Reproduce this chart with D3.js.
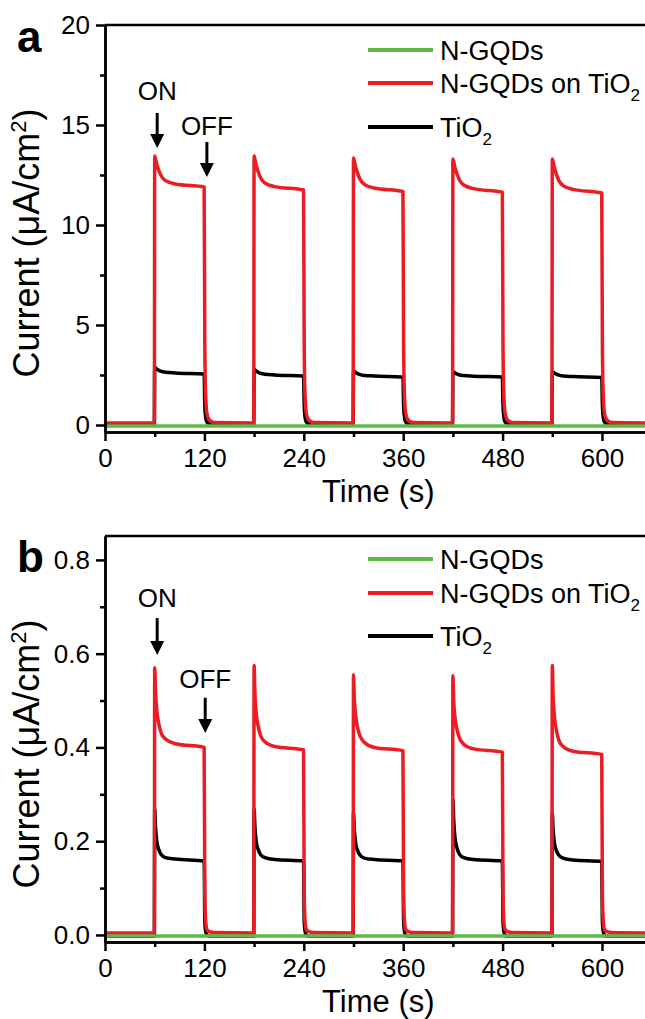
<!doctype html>
<meta charset="utf-8">
<title>Photocurrent response</title>
<script src="https://cdn.jsdelivr.net/npm/d3@7/dist/d3.min.js"></script>
<style>
body { margin: 0; background: #fff; }
svg { display: block; font-family: "Liberation Sans", Arial, sans-serif; }
</style>
<body>
<svg id="chart" width="645" height="1019"></svg>
<script>

// light switched on at these times, off 60 s later
var onTimes = [60, 180, 300, 420, 540];
// sample times inside one cycle (s after light on)
var phase = [-0.4, 0, 1, 2.5, 5, 8, 13, 25, 59.7, 60.5, 61.5, 63, 66, 72, 119.6];

// panel a (uA/cm2), one row per cycle, values at the phase times
var redA = [
  [0.1, 13.45, 13.3, 13.05, 12.72, 12.45, 12.22, 12.05, 11.9, 4.0, 1.5, 0.6, 0.25, 0.12, 0.1],
  [0.1, 13.45, 13.28, 13.0, 12.65, 12.35, 12.1, 11.92, 11.75, 4.0, 1.5, 0.6, 0.25, 0.12, 0.1],
  [0.1, 13.35, 13.2, 12.92, 12.58, 12.28, 12.03, 11.85, 11.68, 4.0, 1.5, 0.6, 0.25, 0.12, 0.1],
  [0.1, 13.3, 13.15, 12.88, 12.55, 12.25, 12.0, 11.82, 11.64, 4.0, 1.5, 0.6, 0.25, 0.12, 0.1],
  [0.1, 13.3, 13.15, 12.88, 12.53, 12.22, 11.97, 11.78, 11.6, 4.0, 1.5, 0.6, 0.25, 0.12, 0.1]
];
var blackA = [
  [0.0, 2.9, 2.86, 2.8, 2.73, 2.68, 2.64, 2.6, 2.55, 1.0, 0.4, 0.15, 0.06, 0.02, 0.0],
  [0.0, 2.8, 2.76, 2.7, 2.63, 2.58, 2.54, 2.5, 2.45, 1.0, 0.4, 0.15, 0.06, 0.02, 0.0],
  [0.0, 2.72, 2.68, 2.63, 2.57, 2.52, 2.48, 2.45, 2.4, 1.0, 0.4, 0.15, 0.06, 0.02, 0.0],
  [0.0, 2.68, 2.65, 2.6, 2.55, 2.5, 2.47, 2.44, 2.4, 1.0, 0.4, 0.15, 0.06, 0.02, 0.0],
  [0.0, 2.68, 2.65, 2.59, 2.54, 2.49, 2.45, 2.42, 2.38, 1.0, 0.4, 0.15, 0.06, 0.02, 0.0]
];
var greenTimes = [0, 660];
var greenA = [-0.05, -0.05];

// panel b (uA/cm2)
var redB = [
  [0.004, 0.57, 0.52, 0.48, 0.45, 0.43, 0.418, 0.408, 0.4, 0.09, 0.03, 0.012, 0.007, 0.005, 0.004],
  [0.004, 0.575, 0.515, 0.475, 0.445, 0.425, 0.412, 0.402, 0.395, 0.09, 0.03, 0.012, 0.007, 0.005, 0.004],
  [0.004, 0.555, 0.505, 0.47, 0.442, 0.424, 0.411, 0.4, 0.393, 0.09, 0.03, 0.012, 0.007, 0.005, 0.004],
  [0.004, 0.553, 0.5, 0.465, 0.438, 0.42, 0.407, 0.397, 0.39, 0.09, 0.03, 0.012, 0.007, 0.005, 0.004],
  [0.004, 0.575, 0.51, 0.468, 0.436, 0.415, 0.402, 0.392, 0.385, 0.09, 0.03, 0.012, 0.007, 0.005, 0.004]
];
var blackB = [
  [-0.003, 0.27, 0.23, 0.2, 0.182, 0.171, 0.165, 0.162, 0.158, 0.03, 0.008, 0.0, -0.003, -0.003, -0.003],
  [-0.003, 0.27, 0.23, 0.2, 0.182, 0.171, 0.165, 0.161, 0.158, 0.03, 0.008, 0.0, -0.003, -0.003, -0.003],
  [-0.003, 0.26, 0.225, 0.197, 0.18, 0.17, 0.164, 0.161, 0.158, 0.03, 0.008, 0.0, -0.003, -0.003, -0.003],
  [-0.003, 0.29, 0.245, 0.208, 0.185, 0.172, 0.165, 0.161, 0.158, 0.03, 0.008, 0.0, -0.003, -0.003, -0.003],
  [-0.003, 0.26, 0.225, 0.197, 0.18, 0.17, 0.164, 0.16, 0.157, 0.03, 0.008, 0.0, -0.003, -0.003, -0.003]
];
var greenB = [-0.002, -0.002];

var xTicks = [0, 120, 240, 360, 480, 600]
  , xMinor = [60, 180, 300, 420, 540];

var legendNames = ['N-GQDs', 'N-GQDs on TiO', 'TiO']
  , legendSub = ['', '2', '2']
  , colors = ['#5fb946', '#ec1c24', '#000000'];

var arrowsA = [
  { label: 'ON', t: 63, text: 16.25, from: 15.6, to: 13.85 },
  { label: 'OFF', t: 123, text: 14.5, from: 14.15, to: 12.4 }
];
var arrowsB = [
  { label: 'ON', t: 63, text: 0.70, from: 0.676, to: 0.597 },
  { label: 'OFF', t: 121, text: 0.527, from: 0.506, to: 0.431 }
];

var svg = d3.select('#chart')
  , left = 105
  , x = d3.scaleLinear().domain([0, 660]).range([left, left + 660 * 0.8283]);

function toSeries(start, rows) {
	var pts = [[0, start]];
	rows.forEach(function(row, i) {
		row.forEach(function(v, j) { pts.push([onTimes[i] + phase[j], v]); });
	});
	return pts;
}

function drawPanel(p) {
	var y = d3.scaleLinear().domain(p.yDomain).range([p.bottom, p.top]);
	var g = svg.append('g');

	var line = d3.line()
	  .x(function(d) { return x(d[0]) })
	  .y(function(d) { return y(d[1]) })
	  .curve(d3.curveMonotoneX);

	var series = [
		{ pts: toSeries(p.black[0][0], p.black), col: colors[2] },
		{ pts: toSeries(p.red[0][0], p.red), col: colors[1] },
		{ pts: greenTimes.map(function(t, i) { return [t, p.green[i]] }), col: colors[0] }
	];
	g.selectAll('path.trace')
	  .data(series)
	  .enter().append('path')
	  .attr('class', 'trace')
	  .attr('d', function(d) { return line(d.pts) })
	  .style('fill', 'none')
	  .style('stroke', function(d) { return d.col })
	  .style('stroke-width', 3.5)
	  .style('stroke-linejoin', 'round');

	// minor ticks first, then major with labels
	var ax = g.append('g').attr('transform', 'translate(0,' + p.bottom + ')');
	ax.call(d3.axisBottom(x).tickValues(xMinor).tickSize(5).tickSizeOuter(0).tickFormat(''));
	var ax2 = g.append('g').attr('transform', 'translate(0,' + p.bottom + ')');
	ax2.call(d3.axisBottom(x).tickValues(xTicks).tickSize(9).tickSizeOuter(0).tickPadding(8));

	var ay = g.append('g').attr('transform', 'translate(' + left + ',0)');
	ay.call(d3.axisLeft(y).tickValues(p.yMinor).tickSize(5).tickSizeOuter(0).tickFormat(''));
	var ay2 = g.append('g').attr('transform', 'translate(' + left + ',0)');
	ay2.call(d3.axisLeft(y).tickValues(p.yTicks).tickSize(9).tickSizeOuter(0).tickPadding(6).tickFormat(p.fmt));

	g.selectAll('.domain, .tick line').style('stroke', '#000').style('stroke-width', 2.5);
	g.selectAll('.tick text').style('font-size', '26px').style('fill', '#000');
	g.selectAll('g').attr('font-family', null).attr('font-size', null);

	g.append('line')
	  .attr('x1', left).attr('x2', 645)
	  .attr('y1', p.top).attr('y2', p.top)
	  .style('stroke', '#000').style('stroke-width', 2.5);

	// axis titles
	g.append('text')
	  .attr('x', x(330)).attr('y', p.bottom + 70)
	  .attr('text-anchor', 'middle')
	  .style('font-size', '31px')
	  .text('Time (s)');

	var yt = g.append('text')
	  .attr('transform', 'translate(39,' + (p.top + 218) + ') rotate(-90)')
	  .attr('text-anchor', 'middle')
	  .style('font-size', '36px');
	yt.append('tspan').text('Current (μA/cm');
	yt.append('tspan').attr('dy', -13).style('font-size', '22px').text('2');
	yt.append('tspan').attr('dy', 13).text(')');

	g.append('text')
	  .attr('x', 17).attr('y', p.top + p.labelDy)
	  .style('font-size', '44px').style('font-weight', 'bold')
	  .text(p.name);

	// legend
	var leg = g.selectAll('g.leg')
	  .data(legendNames)
	  .enter().append('g')
	  .attr('class', 'leg')
	  .attr('transform', function(d, i) { return 'translate(368,' + (p.top + p.legY[i]) + ')' });
	leg.append('line')
	  .attr('x1', 0).attr('x2', 65)
	  .style('stroke', function(d, i) { return colors[i] })
	  .style('stroke-width', 4);
	var lt = leg.append('text')
	  .attr('x', 72).attr('y', 10)
	  .style('font-size', '27px');
	lt.append('tspan').text(function(d) { return d });
	lt.append('tspan').attr('dy', 8).style('font-size', '17px').text(function(d, i) { return legendSub[i] });

	// ON / OFF arrows
	p.arrows.forEach(function(a) {
		var ax = x(a.t), y0 = y(a.from), y1 = y(a.to);
		g.append('text')
		  .attr('x', ax).attr('y', y(a.text))
		  .attr('text-anchor', 'middle')
		  .style('font-size', '26px')
		  .text(a.label);
		g.append('line')
		  .attr('x1', ax).attr('x2', ax)
		  .attr('y1', y0).attr('y2', y1 - 10)
		  .style('stroke', '#000').style('stroke-width', 3);
		g.append('path')
		  .attr('d', 'M' + (ax - 7) + ',' + (y1 - 14) + 'L' + (ax + 7) + ',' + (y1 - 14) + 'L' + ax + ',' + y1 + 'Z')
		  .style('fill', '#000');
	});
}

drawPanel({
	name: 'a', top: 25, bottom: 432, yDomain: [-0.35, 20],
	yTicks: [0, 5, 10, 15, 20], yMinor: [2.5, 7.5, 12.5, 17.5], fmt: d3.format('d'),
	red: redA, black: blackA, green: greenA, arrows: arrowsA,
	labelDy: 27, legY: [25, 58, 102]
});

drawPanel({
	name: 'b', top: 536, bottom: 942, yDomain: [-0.015, 0.851],
	yTicks: [0, 0.2, 0.4, 0.6, 0.8], yMinor: [0.1, 0.3, 0.5, 0.7], fmt: d3.format('.1f'),
	red: redB, black: blackB, green: greenB, arrows: arrowsB,
	labelDy: 36, legY: [23, 57, 100]
});

</script>
</body>
